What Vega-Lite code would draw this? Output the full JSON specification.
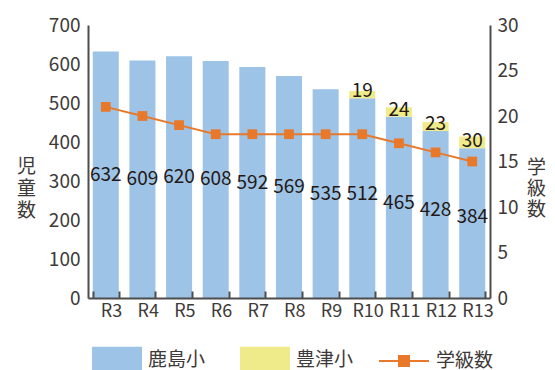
{
  "$schema": "https://vega.github.io/schema/vega-lite/v6.json",
  "autosize": "none",
  "width": 402,
  "height": 273,
  "padding": {"left": 88, "top": 25, "right": 65, "bottom": 72},
  "background": "#ffffff",
  "config": {
    "view": {"stroke": null},
    "font": "Noto Sans CJK JP",
    "axis": {"labelFont": "Noto Sans CJK JP", "labelFontSize": 18, "labelColor": "#3e3a39", "domainColor": "#4d4d4d", "domainWidth": 2, "grid": false, "titleFont": "Noto Sans CJK JP", "titleColor": "#3e3a39", "titleFontWeight": "normal"},
    "legend": {"labelFont": "Noto Sans CJK JP", "labelFontSize": 19, "labelColor": "#3e3a39"}
  },
  "data": {"values": [
    {"年度": "R3", "鹿島小": 632, "学級数": 21},
    {"年度": "R4", "鹿島小": 609, "学級数": 20},
    {"年度": "R5", "鹿島小": 620, "学級数": 19},
    {"年度": "R6", "鹿島小": 608, "学級数": 18},
    {"年度": "R7", "鹿島小": 592, "学級数": 18},
    {"年度": "R8", "鹿島小": 569, "学級数": 18},
    {"年度": "R9", "鹿島小": 535, "学級数": 18},
    {"年度": "R10", "鹿島小": 512, "豊津小": 19, "学級数": 18},
    {"年度": "R11", "鹿島小": 465, "豊津小": 24, "学級数": 17},
    {"年度": "R12", "鹿島小": 428, "豊津小": 23, "学級数": 16},
    {"年度": "R13", "鹿島小": 384, "豊津小": 30, "学級数": 15}
  ]},
  "encoding": {
    "x": {
      "field": "年度", "type": "nominal", "sort": null, "title": null,
      "scale": {"paddingInner": 0.29, "paddingOuter": 0.13},
      "axis": {"labelAngle": 0, "zindex": 1, "tickBand": "extent", "tickOffset": -5.3, "labelOffset": 5.3, "tickSize": -7, "tickColor": "#4d4d4d", "tickWidth": 2, "labelPadding": 11}
    }
  },
  "layer": [
    {
      "transform": [{"fold": ["鹿島小", "豊津小"], "as": ["school", "value"]}],
      "mark": {"type": "bar"},
      "encoding": {
        "y": {"field": "value", "type": "quantitative", "stack": "zero", "scale": {"domain": [0, 700], "nice": false},
          "axis": {"values": [0, 100, 200, 300, 400, 500, 600, 700], "ticks": false, "labelPadding": 8, "labelFontSize": 19, "title": ["児", "童", "数"], "titleAngle": 0, "titleX": -62, "titleY": 141, "titleFontSize": 19, "titleLineHeight": 22, "titleBaseline": "middle", "titleAlign": "center"}},
        "fill": {"field": "school", "type": "nominal", "title": null,
          "scale": {"domain": ["鹿島小", "豊津小"], "range": ["#9dc3e6", "#efeb8b"]},
          "legend": {"orient": "none", "legendX": 4, "legendY": 310, "direction": "horizontal", "symbolType": "M-1,-0.54H1V0.54H-1Z", "symbolSize": 2500, "symbolStrokeWidth": 0, "columnPadding": 34, "labelOffset": 6}},
        "order": {"field": "school", "sort": "descending"}
      }
    },
    {
      "mark": {"type": "line", "strokeWidth": 2},
      "encoding": {
        "y": {"field": "学級数", "type": "quantitative", "scale": {"domain": [0, 30], "nice": false},
          "axis": {"orient": "right", "values": [0, 5, 10, 15, 20, 25, 30], "ticks": false, "labelPadding": 7, "labelFontSize": 19, "title": ["学", "級", "数"], "titleAngle": 0, "titleX": 46, "titleY": 142, "titleFontSize": 19, "titleLineHeight": 21, "titleBaseline": "middle", "titleAlign": "center"}},
        "stroke": {"datum": "学級数", "title": null,
          "scale": {"domain": ["学級数"], "range": ["#e8792b"]},
          "legend": {"orient": "none", "legendX": 290, "legendY": 310, "symbolType": "M-1,0H1M-0.2,-0.2H0.2V0.2H-0.2Z", "symbolSize": 2500, "symbolStrokeWidth": 2, "symbolFillColor": "#e8792b", "labelOffset": 6}}
      }
    },
    {
      "mark": {"type": "point", "shape": "square", "filled": true, "size": 95, "color": "#e8792b", "opacity": 1},
      "encoding": {
        "y": {"field": "学級数", "type": "quantitative", "scale": {"domain": [0, 30], "nice": false}, "axis": null}
      }
    },
    {
      "transform": [{"fold": ["鹿島小", "豊津小"], "as": ["school", "value"]}],
      "mark": {"type": "text", "fontSize": 19, "color": "#231815", "baseline": "middle"},
      "encoding": {
        "y": {"aggregate": "sum", "field": "value", "type": "quantitative", "scale": {"domain": [0, 1400], "nice": false}, "axis": null},
        "text": {"aggregate": "max", "field": "value", "type": "quantitative"}
      }
    },
    {
      "transform": [{"filter": "datum['豊津小'] > 0"}],
      "mark": {"type": "text", "fontSize": 19, "color": "#231815", "baseline": "alphabetic", "dy": -1},
      "encoding": {
        "y": {"field": "鹿島小", "type": "quantitative", "scale": {"domain": [0, 700], "nice": false}, "axis": null},
        "text": {"field": "豊津小", "type": "quantitative"}
      }
    }
  ],
  "resolve": {"scale": {"y": "independent"}}
}
